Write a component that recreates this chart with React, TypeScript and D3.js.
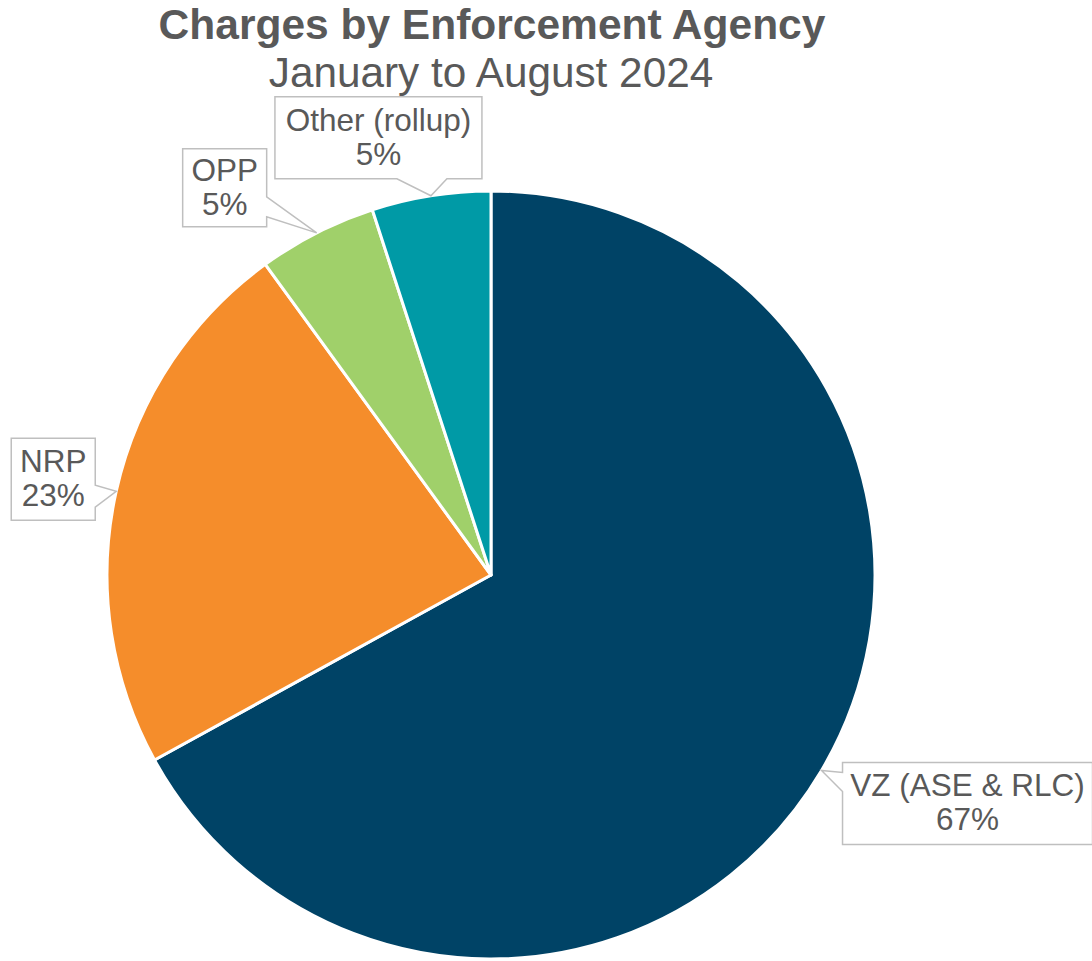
import React from 'react';
import * as d3 from 'd3';

const agencies = ['VZ (ASE & RLC)', 'NRP', 'OPP', 'Other (rollup)'];
const shares = [67, 23, 5, 5];
const sliceColors = ['#004366', '#F58D2B', '#A0D06A', '#009AA6'];

// callout layout: box offset from the pointer tip, box size, side carrying the wedge and wedge base range
const callouts = [
  { dx: 21, dy: -8, w: 250, h: 82, side: 'left', b0: 10, b1: 29 },
  { dx: -105, dy: -53, w: 84, h: 82, side: 'right', b0: 47, b1: 69 },
  { dx: -134, dy: -84, w: 84, h: 78, side: 'right', b0: 48, b1: 68 },
  { dx: -156, dy: -99, w: 207, h: 82, side: 'bottom', b0: 122, b1: 172 },
];

const W = 1092;
const H = 961;
const cx = 491;
const cy = 575;
const R = 384;
const FONT = '"Liberation Sans", Arial, sans-serif';
const TEXT = '#595959';

function calloutPath(x: number, y: number, w: number, h: number, side: string, b0: number, b1: number, tx: number, ty: number) {
  const p = d3.path();
  p.moveTo(x, y);
  p.lineTo(x + w, y);
  if (side === 'right') {
    p.lineTo(x + w, y + b0);
    p.lineTo(tx, ty);
    p.lineTo(x + w, y + b1);
  }
  p.lineTo(x + w, y + h);
  if (side === 'bottom') {
    p.lineTo(x + b1, y + h);
    p.lineTo(tx, ty);
    p.lineTo(x + b0, y + h);
  }
  p.lineTo(x, y + h);
  if (side === 'left') {
    p.lineTo(x, y + b1);
    p.lineTo(tx, ty);
    p.lineTo(x, y + b0);
  }
  p.closePath();
  return p.toString();
}

export default function App() {
  const data = agencies.map((name, i) => ({ name, value: shares[i], color: sliceColors[i] }));
  const pie = d3.pie<typeof data[number]>().sort(null).value(d => d.value);
  const arcs = pie(data);
  const arc = d3.arc<d3.PieArcDatum<typeof data[number]>>().innerRadius(0).outerRadius(R);
  const total = d3.sum(shares);

  return (
    <svg width={W} height={H} style={{ position: 'absolute', left: 0, top: 0, background: '#fff' }} fontFamily={FONT}>
      <text x={492} y={39} textAnchor="middle" fontSize={42.5} fontWeight="bold" fill={TEXT}>
        Charges by Enforcement Agency
      </text>
      <text x={491} y={87} textAnchor="middle" fontSize={42.3} fill={TEXT}>
        January to August 2024
      </text>
      <g transform={`translate(${cx},${cy})`}>
        {arcs.map((a, i) => (
          <path key={i} d={arc(a) || ''} fill={a.data.color} stroke="#fff" strokeWidth={3} strokeLinejoin="round" />
        ))}
      </g>
      {arcs.map((a, i) => {
        const mid = (a.startAngle + a.endAngle) / 2;
        const tx = cx + R * Math.sin(mid);
        const ty = cy - R * Math.cos(mid);
        const c = callouts[i];
        const bx = tx + c.dx;
        const by = ty + c.dy;
        const pct = d3.format('.0%')(a.data.value / total);
        return (
          <g key={'c' + i}>
            <path d={calloutPath(bx, by, c.w, c.h, c.side, c.b0, c.b1, tx, ty)} fill="#fff" stroke="#BFBFBF" strokeWidth={1.5} />
            <text x={bx + c.w / 2} y={by + c.h / 2 - 7} textAnchor="middle" fontSize={31.5} fill={TEXT}>
              {a.data.name}
            </text>
            <text x={bx + c.w / 2} y={by + c.h / 2 + 27} textAnchor="middle" fontSize={31.5} fill={TEXT}>
              {pct}
            </text>
          </g>
        );
      })}
    </svg>
  );
}
